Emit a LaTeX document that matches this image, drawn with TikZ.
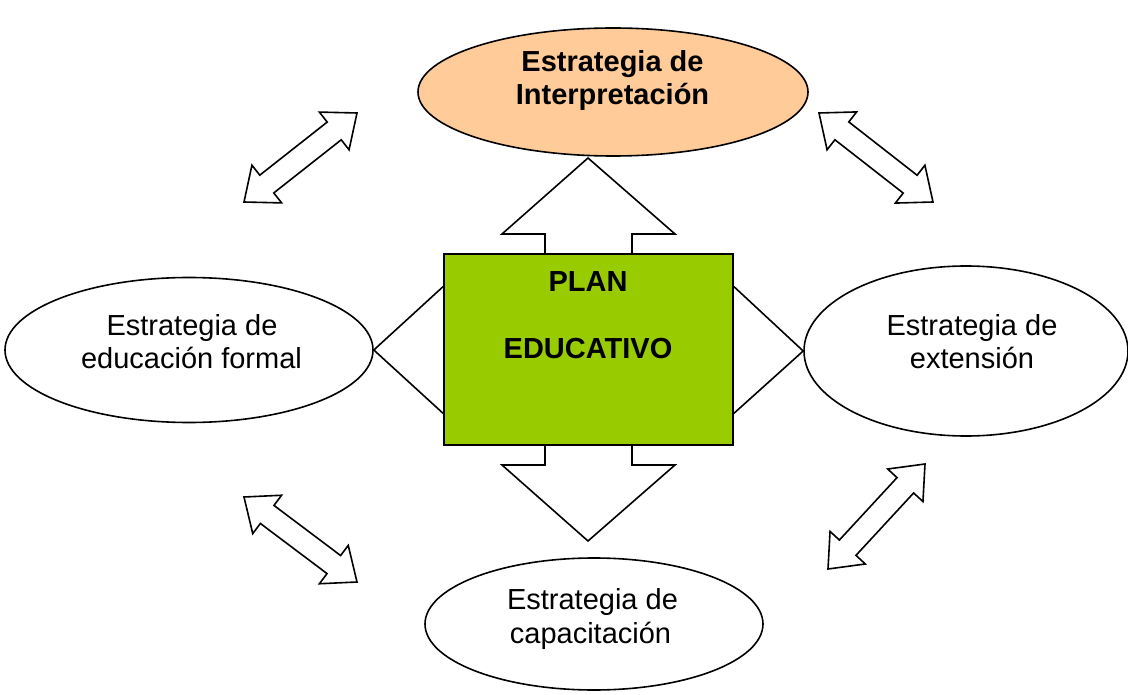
\documentclass[tikz,border=0pt]{standalone}
\usepackage{fontspec}
\setmainfont{Liberation Sans}
\usetikzlibrary{shapes.geometric,calc}
\definecolor{peach}{HTML}{FFCC99}
\definecolor{leaf}{HTML}{99CC00}
\newcommand\dblarrow[2]{%
  \draw[blockarrow] (#1)
   -- ($(#1)!29pt!(#2)!24pt!90:(#2)$)
   -- ($(#1)!29pt!(#2)!11.3pt!90:(#2)$)
   -- ($(#2)!29pt!(#1)!11.3pt!-90:(#1)$)
   -- ($(#2)!29pt!(#1)!24pt!-90:(#1)$)
   -- (#2)
   -- ($(#2)!29pt!(#1)!24pt!90:(#1)$)
   -- ($(#2)!29pt!(#1)!11.3pt!90:(#1)$)
   -- ($(#1)!29pt!(#2)!11.3pt!-90:(#2)$)
   -- ($(#1)!29pt!(#2)!24pt!-90:(#2)$)
   -- cycle;}
\begin{document}
\begin{tikzpicture}[x=1pt,y=-1pt, line width=1.6pt, line join=miter,
  oval/.style={ellipse, draw, fill=white, inner sep=0pt},
  lbl/.style={anchor=base, inner sep=0pt, font=\fontsize{29}{33}\selectfont},
  blbl/.style={anchor=base, inner sep=0pt, font=\fontsize{29}{33}\selectfont\bfseries},
  blockarrow/.style={draw, fill=white},
  planbox/.style={draw, fill=leaf, inner sep=0pt, minimum width=289pt, minimum height=191pt}]
\useasboundingbox (0,0) rectangle (1128,695);

% vertical block arrows
\draw[blockarrow] (545,254) -- (545,234) -- (502,234) -- (588,158) -- (675,234) -- (632,234) -- (632,254) -- cycle;
\draw[blockarrow] (545,445) -- (545,465) -- (502,465) -- (588,541) -- (675,465) -- (632,465) -- (632,445) -- cycle;

% ellipses
\node[oval, fill=peach, minimum width=390pt, minimum height=128pt] (interp) at (613,92) {};
\node[blbl] (interp1) at (612.5,72) {Estrategia de};
\node[blbl] (interp2) at (612.5,105) {Interpretación};

\node[oval, minimum width=368pt, minimum height=145pt] (formal) at (189,350) {};
\node[lbl] (formal1) at (192,335) {Estrategia de};
\node[lbl] (formal2) at (191.5,368) {educación formal};

\node[oval, minimum width=324pt, minimum height=170pt] (ext) at (966,351) {};
\node[lbl] (ext1) at (972,335) {Estrategia de};
\node[lbl] (ext2) at (972,368) {extensión};

\node[oval, minimum width=338pt, minimum height=132pt] (cap) at (594,624) {};
\node[lbl] (cap1) at (592.5,609) {Estrategia de};
\node[lbl] (cap2) at (590.5,643) {capacitación};

% central box
\node[planbox] (plan) at (588.5,349.5) {};
\node[blbl] (plan1) at (588,292) {PLAN};
\node[blbl] (plan2) at (588,359) {EDUCATIVO};

% side connectors
\draw ($(plan.north west)!0.173!(plan.south west)$) -- (formal.east) -- ($(plan.north west)!0.832!(plan.south west)$);
\draw ($(plan.north east)!0.173!(plan.south east)$) -- (ext.west) -- ($(plan.north east)!0.832!(plan.south east)$);

% diagonal double arrows
\coordinate (tlA) at (244,202); \coordinate (tlB) at (357,113);
\coordinate (trA) at (819,113); \coordinate (trB) at (933,202);
\coordinate (blA) at (244,497); \coordinate (blB) at (357,582);
\coordinate (brA) at (828,569); \coordinate (brB) at (925,464);
\dblarrow{tlA}{tlB}
\dblarrow{trA}{trB}
\dblarrow{blA}{blB}
\dblarrow{brA}{brB}
\end{tikzpicture}
\end{document}
